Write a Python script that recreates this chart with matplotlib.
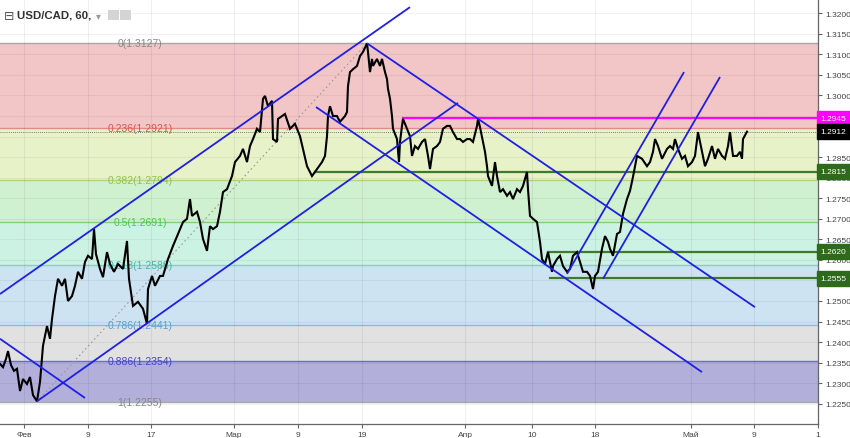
import matplotlib
matplotlib.use("Agg")
import matplotlib.pyplot as plt
from matplotlib.patches import Rectangle
import numpy as np

# ---------------- data ----------------
# time axis: chart column positions (weekends compressed, TradingView style)
tick_pos = [24, 88, 151, 234, 298, 362, 465, 532, 595, 691, 754, 818]
tick_labels = ["Фев", "9", "17", "Мар", "9", "19", "Апр", "10", "18", "Май", "9", "1"]

price_ticks = [1.2250, 1.2300, 1.2350, 1.2400, 1.2450, 1.2500, 1.2550, 1.2600,
               1.2650, 1.2700, 1.2750, 1.2800, 1.2850, 1.2900, 1.2950, 1.3000,
               1.3050, 1.3100, 1.3150, 1.3200]
# labels hidden behind the value boxes on the price scale
hidden_ticks = [1.2550, 1.2950]

price_pos = [0, 3, 6, 8, 11, 14, 17, 20, 23, 27, 30, 33, 37, 40, 43, 47, 50, 52, 55, 58,
             62, 65, 68, 72, 75, 78, 82, 85, 88, 92, 94, 96, 100, 103, 107, 110, 114, 118,
             123, 127, 129, 133, 138, 143, 147, 148, 152, 155, 160, 163, 168, 173, 180, 183,
             187, 190, 192, 197, 200, 203, 207, 210, 213, 217, 220, 223, 227, 232, 235, 240,
             243, 247, 250, 253, 257, 260, 263, 265, 268, 272, 273, 277, 278, 285, 290, 295,
             300, 303, 307, 312, 317, 322, 325, 327, 328, 330, 333, 337, 340, 345, 347, 348,
             350, 353, 357, 360, 363, 367, 368, 370, 372, 373, 377, 380, 382, 385, 387, 388,
             390, 392, 393, 397, 399, 400, 402, 403, 407, 410, 412, 415, 418, 422, 425, 428,
             430, 433, 437, 440, 443, 447, 450, 453, 457, 460, 463, 467, 470, 473, 477, 478,
             480, 483, 485, 487, 488, 492, 495, 497, 500, 503, 507, 510, 513, 517, 520, 523,
             527, 528, 530, 533, 537, 540, 542, 545, 548, 552, 553, 557, 560, 563, 567, 570,
             573, 577, 580, 583, 587, 590, 593, 595, 598, 602, 605, 608, 610, 613, 617, 620,
             623, 627, 630, 633, 635, 637, 642, 647, 650, 653, 655, 658, 662, 667, 670, 673,
             675, 678, 682, 685, 688, 692, 695, 698, 702, 705, 708, 712, 715, 718, 722, 725,
             728, 730, 733, 737, 740, 742, 743, 747]
price_val = [1.2347, 1.2339, 1.2359, 1.2378, 1.2344, 1.2330, 1.2335, 1.2281, 1.2310, 1.2298,
             1.2315, 1.2271, 1.2256, 1.2303, 1.2391, 1.2439, 1.2408, 1.2456, 1.2512, 1.2554,
             1.2537, 1.2554, 1.2500, 1.2512, 1.2537, 1.2571, 1.2554, 1.2595, 1.2610, 1.2602,
             1.2675, 1.2614, 1.2578, 1.2558, 1.2619, 1.2590, 1.2571, 1.2590, 1.2578, 1.2646,
             1.2554, 1.2488, 1.2498, 1.2481, 1.2444, 1.2529, 1.2561, 1.2537, 1.2561, 1.2561,
             1.2602, 1.2634, 1.2675, 1.2692, 1.2700, 1.2748, 1.2707, 1.2717, 1.2692, 1.2651,
             1.2622, 1.2682, 1.2675, 1.2682, 1.2717, 1.2765, 1.2772, 1.2804, 1.2838, 1.2853,
             1.2870, 1.2838, 1.2877, 1.2894, 1.2919, 1.2911, 1.2992, 1.2999, 1.2974, 1.2987,
             1.2894, 1.2887, 1.2943, 1.2955, 1.2919, 1.2931, 1.2901, 1.2870, 1.2828, 1.2804,
             1.2821, 1.2838, 1.2853, 1.2901, 1.2950, 1.2974, 1.2950, 1.2950, 1.2936, 1.2950,
             1.2960, 1.3023, 1.3057, 1.3064, 1.3072, 1.3096, 1.3106, 1.3127, 1.3106, 1.3057,
             1.3089, 1.3072, 1.3089, 1.3072, 1.3089, 1.3057, 1.3040, 1.3016, 1.2992, 1.2950,
             1.2919, 1.2894, 1.2838, 1.2887, 1.2926, 1.2943, 1.2919, 1.2901, 1.2853, 1.2877,
             1.2870, 1.2887, 1.2894, 1.2853, 1.2821, 1.2870, 1.2877, 1.2887, 1.2919, 1.2926,
             1.2926, 1.2911, 1.2894, 1.2894, 1.2887, 1.2894, 1.2894, 1.2887, 1.2926, 1.2943,
             1.2923, 1.2887, 1.2863, 1.2828, 1.2804, 1.2780, 1.2838, 1.2804, 1.2765, 1.2772,
             1.2756, 1.2765, 1.2748, 1.2772, 1.2765, 1.2780, 1.2814, 1.2772, 1.2707, 1.2700,
             1.2692, 1.2644, 1.2602, 1.2590, 1.2619, 1.2571, 1.2585, 1.2602, 1.2610, 1.2585,
             1.2571, 1.2578, 1.2610, 1.2619, 1.2595, 1.2571, 1.2571, 1.2561, 1.2529, 1.2561,
             1.2571, 1.2627, 1.2658, 1.2644, 1.2627, 1.2610, 1.2663, 1.2668, 1.2712, 1.2748,
             1.2768, 1.2802, 1.2828, 1.2853, 1.2846, 1.2828, 1.2838, 1.2863, 1.2894, 1.2877,
             1.2846, 1.2870, 1.2877, 1.2870, 1.2894, 1.2870, 1.2846, 1.2853, 1.2828, 1.2838,
             1.2853, 1.2911, 1.2863, 1.2828, 1.2846, 1.2877, 1.2846, 1.2870, 1.2853, 1.2846,
             1.2877, 1.2911, 1.2853, 1.2853, 1.2863, 1.2846, 1.2894, 1.2912]

# Fibonacci retracement
fib_ratios = ["0", "0.236", "0.382", "0.5", "0.618", "0.786", "0.886", "1"]
fib_prices = [1.3127, 1.2921, 1.2794, 1.2691, 1.2588, 1.2441, 1.2354, 1.2255]
fib_line_colors = ["#a8a8a8", "#e08a8a", "#b5d37a", "#7fcf7f", "#7fd3c3", "#86bddf", "#6a6ae0", "#a8a8a8"]
fib_fill_colors = ["#f2c6c7", "#e7f2c9", "#cff1cf", "#ccf2e4", "#cde3f1", "#e1e1e1", "#b2afdb"]
fib_label_colors = ["#888888", "#d9534f", "#8cc63f", "#4cc94c", "#45b8a6", "#5a9fd0", "#4444cc", "#888888"]
fib_trend = ([37, 367], [1.2255, 1.3127])

# trend channels: (pos0, price0, pos1, price1)
channel_lines = [
    (0, 1.2517, 410, 1.3215),
    (37, 1.2256, 458, 1.2982),
    (0, 1.2408, 85, 1.2264),
    (367, 1.3127, 755, 1.2485),
    (316, 1.2972, 702, 1.2327),
    (567, 1.2566, 684, 1.3057),
    (603, 1.2554, 720, 1.3045),
]

# horizontal levels: (price, start pos, colour)
level_prices = [1.2945, 1.2815, 1.2620, 1.2555]
level_starts = [403, 315, 548, 550]
level_colors = ["#ff00ff", "#3f7a2a", "#3f7a2a", "#3f7a2a"]
level_box_colors = ["#ff00ff", "#2d6a1c", "#2d6a1c", "#2d6a1c"]
last_price = 1.2912

# ---------------- figure ----------------
W, H = 850, 439
fig = plt.figure(figsize=(W / 100, H / 100), dpi=100)
ax = fig.add_axes([0, 14 / H, 818 / W, 425 / H])
x_end = 818
ax.set_xlim(0, x_end)
ax.set_ylim(1.22007, 1.32348)

# fib bands and lines
for i in range(len(fib_prices) - 1):
    ax.fill_between([0, x_end], fib_prices[i + 1], fib_prices[i],
                    color=fib_fill_colors[i], lw=0, zorder=1)
for i, p in enumerate(fib_prices):
    ax.plot([0, x_end], [p, p], color=fib_line_colors[i], lw=1.0, zorder=2)
    ax.text(140, p, f"{fib_ratios[i]}({p:.4f})", color=fib_label_colors[i],
            fontsize=7.5, family="Liberation Sans", ha="center", va="center", zorder=4)

# grid
for t in tick_pos:
    ax.axvline(t, color="black", alpha=0.06, lw=0.8, zorder=2)
for p in price_ticks:
    ax.axhline(p, color="black", alpha=0.05, lw=0.8, zorder=2)

# fib trend (dotted)
ax.plot(fib_trend[0], fib_trend[1], color="#9a9a9a", lw=0.8, ls=(0, (1.5, 2.5)), zorder=3)

# last price dotted line
ax.axhline(last_price, color="#555555", lw=0.6, ls=(0, (1, 1.5)), zorder=3)

# horizontal levels
for p, s, c in zip(level_prices, level_starts, level_colors):
    ax.plot([s, x_end], [p, p], color=c, lw=1.6, zorder=4)

# price
ax.plot(price_pos, price_val, color="black", lw=1.5, zorder=5, solid_joinstyle="miter")

# channels
for x0, p0, x1, p1 in channel_lines:
    ax.plot([x0, x1], [p0, p1], color="#1f1fe6", lw=1.3, zorder=6, solid_capstyle="butt")

# axes styling
for s in ["left", "top"]:
    ax.spines[s].set_visible(False)
ax.spines["bottom"].set_color("#666666")
ax.spines["right"].set_color("#666666")
ax.spines["bottom"].set_linewidth(0.9)
ax.spines["right"].set_linewidth(0.9)
ax.yaxis.tick_right()
ax.set_yticks(price_ticks)
ax.set_yticklabels(["" if p in hidden_ticks else f"{p:.4f}" for p in price_ticks])
ax.set_xticks(tick_pos)
ax.set_xticklabels(tick_labels)
ax.tick_params(axis="y", length=3, width=0.8, color="#666666", labelsize=6,
               labelcolor="#444444", pad=2)
ax.tick_params(axis="x", length=3, width=0.8, color="#666666", labelsize=6,
               labelcolor="#444444", pad=2)
for lab in ax.get_xticklabels() + ax.get_yticklabels():
    lab.set_family("Liberation Sans")

# value boxes on the price scale
ytr = ax.get_yaxis_transform()
boxes = list(zip(level_prices, level_box_colors)) + [(last_price, "#000000")]
for p, c in boxes:
    ax.text(1.003, p, f"{p:.4f}", transform=ytr, fontsize=6, family="Liberation Sans",
            color="white", ha="left", va="center", zorder=10, clip_on=False,
            bbox=dict(boxstyle="square,pad=0.45", fc=c, ec=c))

# title
fig.text(4 / W, 1 - 16 / H, "⊟", fontsize=9, color="#555555", va="center", ha="left")
fig.text(17 / W, 1 - 16 / H, "USD/CAD, 60,", fontsize=8.2, family="Liberation Sans",
         weight="bold", color="#333333", va="center", ha="left")
fig.text(96 / W, 1 - 16 / H, "▾", fontsize=7, color="#999999", va="center", ha="left")
for xx in (108, 120):
    fig.patches.append(Rectangle((xx / W, 1 - 21 / H), 11 / W, 10 / H,
                                 transform=fig.transFigure, fc="#d4d4d4", ec="none"))

fig.savefig("out.png", dpi=100)
